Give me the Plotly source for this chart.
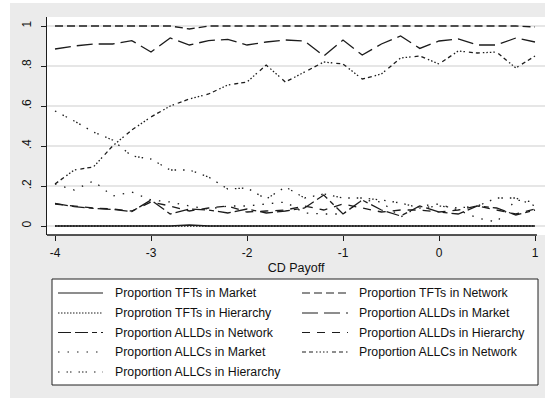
import plotly.graph_objects as go

# CD payoff grid
cd_payoff = [-4.0, -3.8, -3.6, -3.4, -3.2, -3.0, -2.8, -2.6, -2.4, -2.2, -2.0, -1.8, -1.6,
             -1.4, -1.2, -1.0, -0.8, -0.6, -0.4, -0.2, 0.0, 0.2, 0.4, 0.6, 0.8, 1.0]

tft_market = [0, 0, 0, 0, 0, 0, 0, 0.005, 0, 0, 0, 0, 0,
              0, 0, 0, 0, 0, 0, 0, 0, 0, 0, 0, 0, 0]
tft_network = [1, 1, 1, 1, 1, 1.0, 1, 0.985, 1, 1, 1, 1, 1,
               1, 1, 1, 1, 1, 1, 1, 1, 1, 1, 1, 1, 0.995]
tft_hierarchy = [0, 0, 0, 0, 0, 0, 0, 0.003, 0, 0, 0, 0, 0,
                 0, 0, 0, 0, 0, 0, 0, 0, 0, 0, 0, 0, 0]
alld_market = [0.885, 0.90, 0.91, 0.91, 0.927, 0.87, 0.94, 0.905, 0.927, 0.933, 0.905, 0.92, 0.93,
               0.925, 0.85, 0.93, 0.855, 0.91, 0.95, 0.888, 0.925, 0.935, 0.905, 0.905, 0.94, 0.92]
alld_network = [0.113, 0.097, 0.088, 0.083, 0.072, 0.13, 0.06, 0.085, 0.08, 0.065, 0.085, 0.065, 0.075,
                0.09, 0.155, 0.06, 0.13, 0.08, 0.05, 0.10, 0.07, 0.06, 0.10, 0.09, 0.055, 0.08]
alld_hierarchy = [0.11, 0.10, 0.09, 0.085, 0.075, 0.12, 0.10, 0.075, 0.09, 0.10, 0.07, 0.075, 0.08,
                  0.10, 0.08, 0.11, 0.09, 0.07, 0.08, 0.08, 0.07, 0.08, 0.10, 0.08, 0.06, 0.085]
allc_market = [0.21, 0.18, 0.225, 0.15, 0.17, 0.13, 0.12, 0.10, 0.085, 0.10, 0.10, 0.11, 0.12,
               0.065, 0.06, 0.06, 0.13, 0.12, 0.045, 0.10, 0.11, 0.08, 0.04, 0.02, 0.13, 0.12]
allc_network = [0.21, 0.28, 0.295, 0.40, 0.48, 0.545, 0.60, 0.635, 0.66, 0.705, 0.72, 0.805, 0.72,
                0.77, 0.82, 0.81, 0.735, 0.76, 0.84, 0.85, 0.81, 0.875, 0.865, 0.87, 0.79, 0.85]
allc_hierarchy = [0.575, 0.525, 0.47, 0.43, 0.35, 0.335, 0.28, 0.28, 0.245, 0.185, 0.19, 0.135, 0.195,
                  0.14, 0.16, 0.14, 0.14, 0.13, 0.115, 0.09, 0.10, 0.09, 0.10, 0.14, 0.14, 0.10]

series_names = [
    "Proportion TFTs in Market", "Proportion TFTs in Network", "Proprotion TFTs in Hierarchy",
    "Proportion ALLDs in Market", "Proportion ALLDs in Network", "Proportion ALLDs in Hierarchy",
    "Proportion ALLCs in Market", "Proportion ALLCs in Network", "Proportion ALLCs in Hierarchy",
]
series_values = [tft_market, tft_network, tft_hierarchy,
                 alld_market, alld_network, alld_hierarchy,
                 allc_market, allc_network, allc_hierarchy]
series_dash = [
    "solid", "8px,4px", "1.5px,1.5px",
    "16px,6px", "13px,4px,13px,4px,5px,4px", "8px,7px",
    "1.5px,8px", "4px,3px,4px,3px,1.5px,2px,1.5px,2px,1.5px,2px,1.5px,4px",
    "1.5px,7px,1.5px,2px,1.5px,7px,1.5px,2px,1.5px,2px,1.5px,7px",
]

x_ticks = [-4, -3, -2, -1, 0, 1]
x_tick_text = ["-4", "-3", "-2", "-1", "0", "1"]
y_ticks = [0, 0.2, 0.4, 0.6, 0.8, 1]
y_tick_text = ["0", ".2", ".4", ".6", ".8", "1"]

W, H = 545, 398
ML, MR, MT, MB = 47, 0, 17, 163
PW, PH = W - ML - MR, H - MT - MB
LINE = "#1c1c1c"
FONT = "Liberation Sans, Arial, sans-serif"


def px_x(p):
    return (p - ML) / PW


def px_y(p):
    return (H - MB - p) / PH


fig = go.Figure()
for name, vals, dash in zip(series_names, series_values, series_dash):
    fig.add_trace(go.Scatter(x=cd_payoff, y=vals, mode="lines", name=name,
                             line=dict(color=LINE, width=1.3, dash=dash),
                             showlegend=False))

shapes = [
    # white outer frame strips
    dict(type="rect", xref="paper", yref="paper", x0=px_x(0), x1=px_x(10), y0=px_y(H), y1=px_y(0),
         fillcolor="white", line=dict(width=0), layer="below"),
    dict(type="rect", xref="paper", yref="paper", x0=px_x(0), x1=px_x(W), y0=px_y(3), y1=px_y(0),
         fillcolor="white", line=dict(width=0), layer="below"),
    # x axis line
    dict(type="line", xref="x", yref="paper", x0=-4.0833, x1=1.02, y0=0, y1=0,
         line=dict(color=LINE, width=1.3)),
    # legend box
    dict(type="rect", xref="paper", yref="paper", x0=px_x(52), x1=px_x(538), y0=px_y(385), y1=px_y(279),
         fillcolor="white", line=dict(color="#222", width=1)),
]

annotations = []
row_y = [293, 313, 332.5, 352, 372]
for i, (name, dash) in enumerate(zip(series_names, series_dash)):
    col, row = i % 2, i // 2
    sx0, sx1, tx = (58, 103, 113) if col == 0 else (302, 348, 357)
    yy = px_y(row_y[row])
    shapes.append(dict(type="line", xref="paper", yref="paper", x0=px_x(sx0), x1=px_x(sx1), y0=yy, y1=yy,
                       line=dict(color=LINE, width=1.2, dash=dash)))
    annotations.append(dict(text=name, xref="paper", yref="paper", x=px_x(tx), y=yy,
                            xanchor="left", yanchor="middle", showarrow=False,
                            font=dict(family=FONT, size=12.3, color="#111")))

fig.update_layout(
    width=W, height=H, autosize=False,
    margin=dict(l=ML, r=MR, t=MT, b=MB, pad=0),
    paper_bgcolor="#ebebeb", plot_bgcolor="white",
    font=dict(family=FONT, size=12, color="#111"),
    shapes=shapes, annotations=annotations,
    xaxis=dict(range=[-4.0833, 1.1042], tickmode="array", tickvals=x_ticks, ticktext=x_tick_text,
               ticks="outside", ticklen=5, tickwidth=1.2, tickcolor=LINE,
               showgrid=False, zeroline=False, showline=False,
               tickfont=dict(size=12), ticklabelstandoff=2,
               title=dict(text="CD Payoff", font=dict(size=12.5), standoff=3)),
    yaxis=dict(range=[-0.045, 1.045], tickmode="array", tickvals=y_ticks, ticktext=y_tick_text,
               tickangle=-90, ticks="outside", ticklen=5, tickwidth=1.2, tickcolor=LINE,
               showline=True, linecolor=LINE, linewidth=1.3, mirror=False,
               showgrid=True, gridcolor="#e6e6e6", gridwidth=1.5, zeroline=False,
               tickfont=dict(size=12), ticklabelstandoff=5),
)

fig.write_html("out.html")
